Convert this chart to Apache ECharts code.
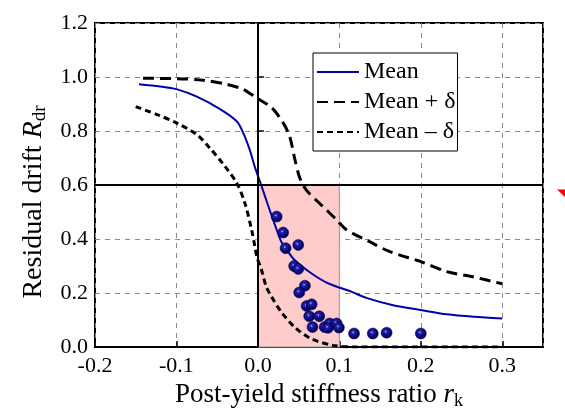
<!DOCTYPE html>
<html>
<head>
<meta charset="utf-8">
<script src="https://cdn.jsdelivr.net/npm/echarts@6/dist/echarts.min.js"></script>
<style>html,body{margin:0;padding:0;background:#fff}#c{width:565px;height:411px}</style>
</head>
<body>
<div id="c"></div>
<script>
var xTicks = [-0.2, -0.1, 0.0, 0.1, 0.2, 0.3];
var yTicks = [0.0, 0.2, 0.4, 0.6, 0.8, 1.0, 1.2];

var meanX = [-0.146, -0.12, -0.1, -0.075, -0.047, -0.026, -0.018, -0.01, -0.004, 0.004, 0.0122, 0.02, 0.0286, 0.034, 0.045, 0.0655, 0.086, 0.1145, 0.133, 0.166, 0.2, 0.232, 0.265, 0.3];
var meanY = [0.973, 0.965, 0.955, 0.927, 0.882, 0.836, 0.793, 0.73, 0.669, 0.6, 0.527, 0.46, 0.39, 0.366, 0.322, 0.273, 0.236, 0.205, 0.182, 0.155, 0.137, 0.121, 0.112, 0.106];

var upperX = [-0.141, -0.1, -0.067, -0.038, -0.018, -0.002, 0.017, 0.031, 0.039, 0.045, 0.051, 0.059, 0.0775, 0.0966, 0.1088, 0.137, 0.162, 0.2, 0.232, 0.264, 0.3];
var upperY = [0.995, 0.994, 0.988, 0.973, 0.954, 0.923, 0.886, 0.83, 0.78, 0.70, 0.63, 0.583, 0.527, 0.471, 0.434, 0.39, 0.353, 0.316, 0.279, 0.26, 0.234];

var lowerX = [-0.15, -0.124, -0.1, -0.075, -0.06, -0.042, -0.026, -0.016, -0.0077, -0.0037, -0.001, 0.004, 0.01, 0.016, 0.0286, 0.045, 0.065, 0.092, 0.12, 0.2, 0.3];
var lowerY = [0.89, 0.861, 0.83, 0.787, 0.74, 0.675, 0.607, 0.533, 0.434, 0.372, 0.33, 0.29, 0.225, 0.19, 0.13, 0.074, 0.031, 0.006, 0.0, 0.0, 0.0];

var ptsX = [0.023, 0.031, 0.034, 0.0495, 0.0445, 0.0495, 0.0577, 0.0507, 0.0598, 0.066, 0.063, 0.0753, 0.067, 0.082, 0.088, 0.086, 0.0966, 0.0994, 0.118, 0.141, 0.158, 0.2];
var ptsY = [0.483, 0.424, 0.366, 0.378, 0.3, 0.289, 0.227, 0.202, 0.152, 0.158, 0.114, 0.114, 0.074, 0.074, 0.087, 0.071, 0.087, 0.072, 0.05, 0.05, 0.053, 0.05];

var seriesNames = ['Mean', 'Mean + δ', 'Mean – δ'];

function zip(a, b) { return a.map(function (v, i) { return [v, b[i]]; }); }

var FONT = 'Liberation Serif';
var chart = echarts.init(document.getElementById('c'), null, { renderer: 'canvas' });

var ballColor = {
  type: 'radial', x: 0.42, y: 0.4, r: 0.6,
  colorStops: [
    { offset: 0, color: '#c8c8ff' },
    { offset: 0.18, color: '#2a2aa8' },
    { offset: 0.55, color: '#0c0c86' },
    { offset: 1, color: '#00004c' }
  ]
};

chart.setOption({
  animation: false,
  backgroundColor: '#fff',
  grid: { left: 95, right: 22, top: 23, bottom: 64, outerBoundsMode: 'none', containLabel: false, show: true, borderColor: '#000', borderWidth: 2, backgroundColor: 'transparent' },
  legend: {
    data: seriesNames,
    orient: 'vertical',
    left: 313, top: 53,
    padding: [7, 2, 7, 3],
    itemWidth: 42, itemHeight: 14, itemGap: 6,
    borderColor: '#000', borderWidth: 1,
    backgroundColor: '#fff',
    itemStyle: { opacity: 0 },
    textStyle: { fontFamily: FONT, fontSize: 24, color: '#000' }
  },
  xAxis: {
    type: 'value', min: xTicks[0], max: 0.35, interval: 0.1,
    axisLine: { show: true, onZero: false, lineStyle: { color: '#000', width: 2 } },
    axisTick: { show: true, inside: true, length: 6, lineStyle: { color: '#000', width: 1.5 } },
    axisLabel: { showMaxLabel: false, margin: 8, fontFamily: FONT, fontSize: 22, color: '#000', formatter: function (v) { return v.toFixed(1); } },
    splitLine: { show: true, lineStyle: { color: '#8a8a8a', width: 1, type: [5, 5] } },
    name: '{a|Post-yield stiffness ratio }{i|r}{s|k}',
    nameLocation: 'middle', nameGap: 22,
    nameTextStyle: {
      fontFamily: FONT, fontSize: 27, color: '#000',
      rich: {
        a: { fontFamily: FONT, fontSize: 27, color: '#000' },
        i: { fontFamily: FONT, fontSize: 27, fontStyle: 'italic', color: '#000' },
        s: { fontFamily: FONT, fontSize: 18, color: '#000', padding: [12, 0, 0, 0] }
      }
    }
  },
  yAxis: {
    type: 'value', min: yTicks[0], max: yTicks[yTicks.length - 1], interval: 0.2,
    axisLine: { show: true, lineStyle: { color: '#000', width: 2 } },
    axisTick: { show: true, inside: true, length: 6, lineStyle: { color: '#000', width: 1.5 } },
    axisLabel: { margin: 7, fontFamily: FONT, fontSize: 22, color: '#000', formatter: function (v) { return v.toFixed(1); } },
    splitLine: { show: true, lineStyle: { color: '#8a8a8a', width: 1, type: [5, 5] } },
    name: '{a|Residual drift }{i|R}{s|dr}',
    nameLocation: 'middle', nameGap: 39,
    nameTextStyle: {
      fontFamily: FONT, fontSize: 28, color: '#000',
      padding: [0, 34, 0, 0],
      rich: {
        a: { fontFamily: FONT, fontSize: 28, color: '#000' },
        i: { fontFamily: FONT, fontSize: 28, fontStyle: 'italic', color: '#000' },
        s: { fontFamily: FONT, fontSize: 19, color: '#000', padding: [12, 0, 0, 0] }
      }
    }
  },
  series: [
    {
      name: 'region', type: 'line', data: [], silent: true,
      markArea: {
        silent: true,
        itemStyle: { color: '#ffcccc', borderColor: '#999', borderWidth: 1 },
        data: [[{ coord: [0, 0] }, { coord: [0.1, 0.6] }]]
      },
      markLine: {
        silent: true, symbol: 'none', animation: false,
        label: { show: false },
        lineStyle: { color: '#000', width: 2, type: 'solid' },
        data: [{ xAxis: 0 }, { yAxis: 0.6 }]
      },
      z: 1
    },
    {
      name: seriesNames[1], type: 'line', data: zip(upperX, upperY), smooth: 0.3,
      symbol: 'none', color: '#000',
      lineStyle: { color: '#000', width: 3, type: [11, 6] }, z: 3
    },
    {
      name: seriesNames[2], type: 'line', data: zip(lowerX, lowerY), smooth: 0.3,
      symbol: 'none', color: '#000',
      lineStyle: { color: '#000', width: 3, type: [6, 4] }, z: 3
    },
    {
      name: seriesNames[0], type: 'line', data: zip(meanX, meanY), smooth: 0.3,
      symbol: 'none', color: '#0000a8',
      lineStyle: { color: '#0000a8', width: 2 }, z: 4
    },
    {
      name: 'Data', type: 'scatter', data: zip(ptsX, ptsY),
      symbol: 'circle', symbolSize: 11,
      itemStyle: { color: ballColor, opacity: 1, borderColor: '#000048', borderWidth: 0.5 }, z: 5
    }
  ],
  graphic: [
    { type: 'polygon', shape: { points: [[557, 189.5], [565, 189.5], [565, 197]] }, style: { fill: '#ff0000' }, silent: true }
  ]
});
</script>
</body>
</html>
